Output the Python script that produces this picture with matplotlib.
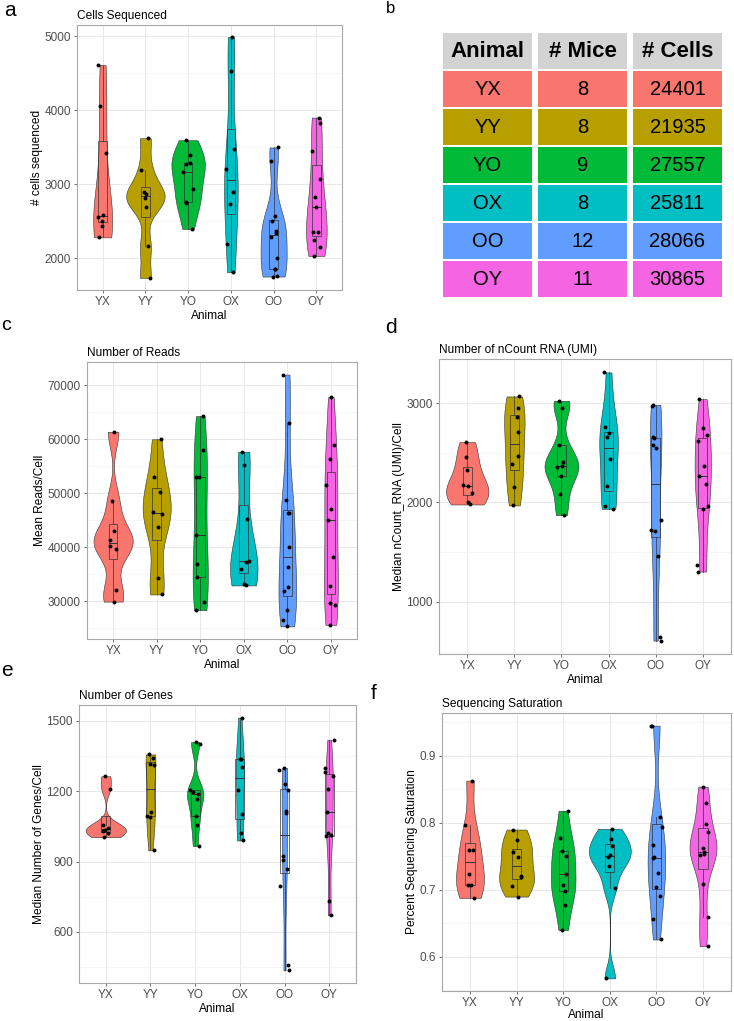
import numpy as np
import matplotlib
matplotlib.use('Agg')
import matplotlib.pyplot as plt
from matplotlib.patches import Rectangle
from matplotlib.ticker import MultipleLocator, AutoMinorLocator

plt.rcParams['font.family'] = ['Liberation Sans', 'DejaVu Sans']

animals = ['YX', 'YY', 'YO', 'OX', 'OO', 'OY']
colors = ['#F8766D', '#B79F00', '#00BA38', '#00BFC4', '#619CFF', '#F564E3']

# table (panel b)
n_mice = [8, 8, 9, 8, 12, 11]
n_cells = [24401, 21935, 27557, 25811, 28066, 30865]

# per-mouse values
cells_seq = [
    [4609, 4057, 3424, 2584, 2553, 2499, 2441, 2283],
    [3621, 3199, 2890, 2863, 2818, 2692, 2167, 1735],
    [3594, 3401, 3285, 3270, 3172, 2939, 2760, 2750, 2396],
    [4987, 4529, 3482, 3204, 2899, 2738, 2194, 1812],
    [3496, 3316, 2566, 2508, 2369, 2340, 2283, 2000, 1857, 1850, 1767, 1754],
    [3900, 3833, 3451, 3069, 2822, 2688, 2360, 2351, 2247, 2149, 2032],
]
mean_reads = [
    [61400, 48500, 43000, 41300, 40300, 39700, 32000, 29900],
    [60000, 52950, 50250, 46430, 46060, 43720, 34250, 31230],
    [64300, 58000, 53000, 53100, 42300, 36800, 34400, 29800, 28300],
    [57700, 55300, 45200, 37500, 37300, 36000, 33100, 32900],
    [72000, 63000, 48700, 46300, 46400, 40100, 36400, 32600, 31800, 28400, 26500, 25300],
    [67800, 59000, 56300, 51600, 47000, 45000, 38100, 32800, 29700, 29200, 25600],
]
median_umi = [
    [2607, 2456, 2326, 2178, 2161, 2094, 2000, 1980],
    [3067, 2950, 2856, 2708, 2463, 2389, 2151, 1970],
    [3023, 2946, 2574, 2403, 2370, 2362, 2262, 2081, 1872],
    [3309, 2762, 2698, 2658, 2440, 2161, 1960, 1936],
    [2983, 2973, 2658, 2648, 2574, 2547, 1819, 1725, 1711, 1463, 650, 610],
    [3040, 2752, 2678, 2617, 2372, 2262, 2185, 1960, 1933, 1369, 1305],
]
median_genes = [
    [1264, 1210, 1054, 1043, 1036, 1030, 1021, 1004],
    [1357, 1343, 1317, 1311, 1110, 1096, 1090, 948],
    [1410, 1402, 1207, 1196, 1188, 1168, 1095, 1058, 967],
    [1514, 1339, 1336, 1303, 1207, 1104, 1021, 990],
    [1300, 1290, 1230, 1204, 1114, 1107, 924, 905, 867, 796, 457, 436],
    [1419, 1300, 1283, 1264, 1210, 1110, 1021, 1014, 1007, 731, 671],
]
seq_sat = [
    [0.863, 0.797, 0.760, 0.759, 0.724, 0.708, 0.707, 0.688],
    [0.790, 0.774, 0.756, 0.749, 0.721, 0.719, 0.706, 0.690],
    [0.818, 0.778, 0.758, 0.750, 0.724, 0.708, 0.698, 0.678, 0.640],
    [0.791, 0.776, 0.765, 0.752, 0.749, 0.735, 0.703, 0.568],
    [0.945, 0.944, 0.809, 0.794, 0.767, 0.749, 0.747, 0.725, 0.704, 0.691, 0.656, 0.626],
    [0.854, 0.829, 0.798, 0.786, 0.763, 0.756, 0.754, 0.752, 0.709, 0.659, 0.616],
]

W, H = 734, 1021
fig = plt.figure(figsize=(W / 100, H / 100), dpi=100)
rng = np.random.default_rng(3)


def px_axes(x0, y0, x1, y1):
    return fig.add_axes([x0 / W, 1 - y1 / H, (x1 - x0) / W, (y1 - y0) / H])


def kde(v, grid):
    v = np.asarray(v, float)
    n = len(v)
    q1, q3 = np.percentile(v, [25, 75])
    bw = 0.9 * min(v.std(ddof=1), (q3 - q1) / 1.34) * n ** -0.2
    z = (grid[:, None] - v[None, :]) / bw
    return np.exp(-0.5 * z ** 2).sum(axis=1) / (n * bw * np.sqrt(2 * np.pi))


def violin_panel(ax, data, title, ylabel, step, xpad=1):
    grids, dens = [], []
    for v in data:
        g = np.linspace(min(v), max(v), 512)
        grids.append(g)
        dens.append(kde(v, g))
    dmax = max(d.max() for d in dens)

    allv = np.concatenate([np.asarray(v, float) for v in data])
    lo, hi = allv.min(), allv.max()
    pad = 0.05 * (hi - lo)

    for i, v in enumerate(data):
        x = i + 1
        hw = 0.45 * dens[i] / dmax
        ax.fill_betweenx(grids[i], x - hw, x + hw, facecolor=colors[i],
                         edgecolor='#333333', linewidth=0.4, zorder=2)
        v = np.asarray(v, float)
        q1, med, q3 = np.percentile(v, [25, 50, 75])
        iqr = q3 - q1
        wlo = v[v >= q1 - 1.5 * iqr].min()
        whi = v[v <= q3 + 1.5 * iqr].max()
        ax.add_patch(Rectangle((x - 0.1, q1), 0.2, q3 - q1, fill=False,
                               edgecolor='#333333', linewidth=0.5, zorder=3))
        ax.plot([x - 0.1, x + 0.1], [med, med], color='#333333', lw=0.7, zorder=3)
        ax.plot([x, x], [q3, whi], color='#333333', lw=0.5, zorder=3)
        ax.plot([x, x], [wlo, q1], color='#333333', lw=0.5, zorder=3)
        jx = x + rng.uniform(-0.12, 0.12, len(v))
        ax.scatter(jx, v, s=8, color='black', linewidths=0, zorder=4)

    ax.set_xlim(0.4, 6.6)
    ax.set_ylim(lo - pad, hi + pad)
    ax.set_xticks(range(1, 7))
    ax.set_xticklabels(animals)
    ax.yaxis.set_major_locator(MultipleLocator(step))
    ax.yaxis.set_minor_locator(AutoMinorLocator(2))
    ax.grid(True, which='major', color='#E8E8E8', lw=0.7, zorder=0)
    ax.grid(True, which='minor', axis='y', color='#F3F3F3', lw=0.5, zorder=0)
    ax.set_axisbelow(True)
    ax.tick_params(which='major', length=2.5, width=0.5, color='#333333',
                   labelsize=8.5, labelcolor='#4D4D4D', pad=2)
    ax.tick_params(which='minor', length=0)
    for s in ax.spines.values():
        s.set_color('#A8A8A8')
        s.set_linewidth(0.8)
    ax.set_title(title, loc='left', fontsize=8.6, pad=4)
    ax.set_ylabel(ylabel, fontsize=8.6, labelpad=1)
    ax.set_xlabel('Animal', fontsize=8.6, labelpad=xpad)


ax_a = px_axes(77, 25, 342, 290)
violin_panel(ax_a, cells_seq, 'Cells Sequenced', '# cells sequenced', 1000)

ax_c = px_axes(87, 362, 357, 639)
violin_panel(ax_c, mean_reads, 'Number of Reads', 'Mean Reads/Cell', 10000)

ax_d = px_axes(439, 359, 731, 654)
violin_panel(ax_d, median_umi, 'Number of nCount RNA (UMI)',
             'Median nCount_RNA (UMI)/Cell', 1000)

ax_e = px_axes(79, 705, 356, 983)
violin_panel(ax_e, median_genes, 'Number of Genes',
             'Median Number of Genes/Cell', 300)

ax_f = px_axes(442, 713, 731, 991)
violin_panel(ax_f, seq_sat, 'Sequencing Saturation',
             'Percent Sequencing Saturation', 0.1, xpad=0)

# panel b: table
ax_b = px_axes(440, 32, 725, 298)
ax_b.set_xlim(0, 3)
ax_b.set_ylim(7, 0)
ax_b.axis('off')
gap = 0.03
header = ['Animal', '# Mice', '# Cells']
for j, h in enumerate(header):
    ax_b.add_patch(Rectangle((j + gap, 0 + gap), 1 - 2 * gap, 1 - 2 * gap,
                             facecolor='#D3D3D3', edgecolor='none'))
    ax_b.text(j + 0.5, 0.5, h, ha='center', va='center', fontsize=16,
              fontweight='bold')
for i in range(6):
    row = [animals[i], str(n_mice[i]), str(n_cells[i])]
    for j, t in enumerate(row):
        ax_b.add_patch(Rectangle((j + gap, i + 1 + gap), 1 - 2 * gap, 1 - 2 * gap,
                                 facecolor=colors[i], edgecolor='none'))
        ax_b.text(j + 0.5, i + 1.5, t, ha='center', va='center', fontsize=14.5)

# panel letters
for lab, x, y, fs in [('a', 4, 1, 15), ('b', 386, 1, 12), ('c', 1, 317, 14),
                      ('d', 385, 318, 15), ('e', 1, 661, 15), ('f', 371, 684, 15)]:
    fig.text(x / W, 1 - y / H, lab, fontsize=fs, va='top', ha='left')

fig.savefig('out.png', dpi=100)
